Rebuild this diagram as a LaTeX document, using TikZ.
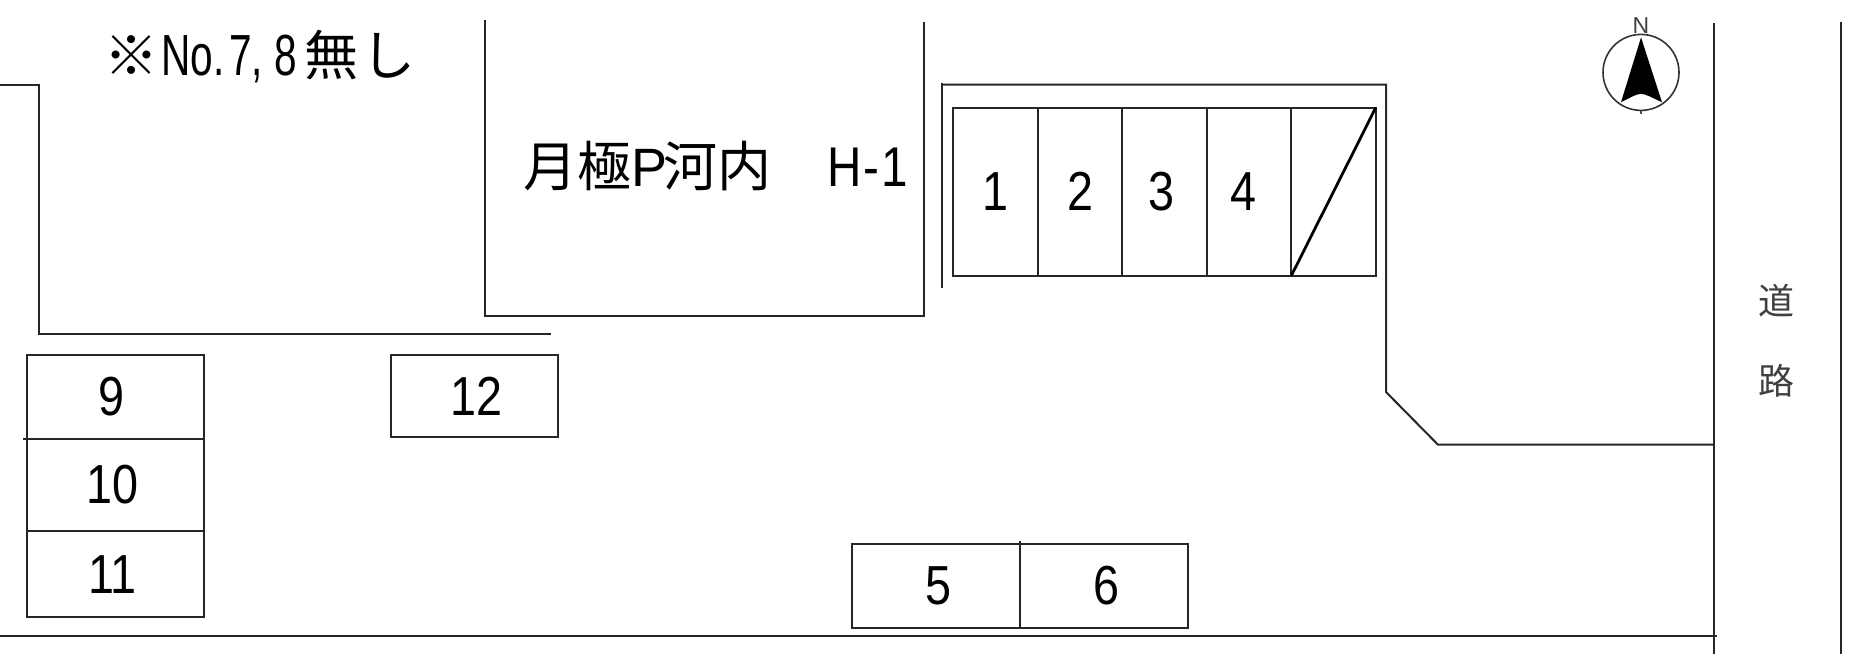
\documentclass[tikz,border=0pt]{standalone}
\usepackage{fontspec}
\setmainfont{Liberation Sans}
\newfontfamily\jpfont{Noto Sans CJK JP}
\newfontfamily\narrowfont[FakeStretch=0.85]{Liberation Sans}
\newfontfamily\slimfont[FakeStretch=0.7]{Liberation Sans}
\usetikzlibrary{positioning}
\newdimen\hdim
\newdimen\wdim
\hdim=168.2pt
\wdim=84.5pt
\tikzstyle{stall}=[
  draw=black!85,
  font={\narrowfont\fontsize{55}{60}\selectfont},
  inner sep=0pt,
  line width=2pt,
  outer sep=0pt,
  rectangle,
  text centered,
]
\tikzstyle{wall}=[
  draw=black!85,
  line width=2pt,
]
\tikzstyle{caption}=[
  anchor=base west,
  font={\fontsize{54}{60}\selectfont},
  inner sep=0pt,
]
\tikzstyle{road}=[
  font={\jpfont\fontsize{36}{40}\selectfont},
  inner sep=0pt,
  text=black!75,
]
\tikzset{
  x=1pt,
  y=-1pt,
  node distance=\wdim,
}
\begin{document}
\begin{tikzpicture}
      \useasboundingbox (0,0) rectangle (1861,654);
      \draw [wall] (0,84.5) -- (38.5,84.5) -- (38.5,333.6) -- (551,333.6);
      \draw [wall] (485,20) -- (485,315.5) -- (924,315.5) -- (924,22);
      \draw [wall] (942,288) -- (942,82.5);
      \draw [wall] (942,84.5) -- (1386,84.5) -- (1386,392) -- (1438,444.7) -- (1714,444.7);
      \draw [wall] (1714,23) -- (1714,654);
      \draw [wall] (1841,22) -- (1841,654);
      \draw [wall] (0,636.2) -- (1717,636.2);
      \node (stallone) [stall, minimum width=\wdim, minimum height=\hdim] at (995.5,191.7) {1};
      \node (stalltwo) [stall, minimum width=\wdim, minimum height=\hdim, right of=stallone] {2};
      \node (stallthree) [stall, minimum width=\wdim, minimum height=\hdim, right of=stalltwo] {\kern-6pt 3};
      \node (stallfour) [stall, minimum width=\wdim, minimum height=\hdim, right of=stallthree] {\kern-12pt 4};
      \node (stallempty) [stall, minimum width=\wdim, minimum height=\hdim, right of=stallfour] {};
      \draw [line width=2.8pt] (stallempty.south west) -- (stallempty.north east);
      \node (stallfive) [stall, minimum width=168pt, minimum height=84pt] at (936,586) {\kern4pt 5};
      \node (stallsix) [stall, minimum width=168pt, minimum height=84pt, right=0pt of stallfive] {\kern4pt 6};
      \draw [wall] ([yshift=3pt]stallfive.north east) -- (stallfive.north east);
      \node (stallnine) [stall, minimum width=176.6pt, minimum height=84.7pt] at (115.3,397) {\kern-8pt 9};
      \node (stallten) [stall, minimum width=176.6pt, minimum height=91.4pt, below=0pt of stallnine] {\kern-6pt 10};
      \node (stalleleven) [stall, minimum width=176.6pt, minimum height=86.7pt, below=0pt of stallten] {\kern-6pt 11};
      \draw [wall] ([xshift=-4pt]stallnine.south west) -- (stallnine.south west);
      \node (stalltwelve) [stall, minimum width=167.6pt, minimum height=82.6pt] at (474.5,395.9) {\kern4pt 12};
      \node (noteline) [caption] at (104,75) {{\jpfont ※}\kern3pt{\slimfont\fontsize{58}{60}\selectfont No.\kern5pt 7, 8}\kern7pt{\jpfont 無\kern3pt し}};
      \node (lotname) [caption] at (523,186.5) {{\jpfont 月極}P\kern-4pt{\jpfont 河内}\kern56pt{\narrowfont\fontsize{56}{60}\selectfont H\kern2pt-\kern2pt 1}};
      \node (roadone) [road] at (1776,301) {道};
      \node (roadtwo) [road] at (1776,381) {路};
      \node (compass) [circle, draw=black!80, line width=1.6pt, minimum size=76pt, inner sep=0pt] at (1641,72.4) {};
      \fill [shift={(compass.center)}] (0,-35) -- (-20,29.8) .. controls (-10,25) and (-5,21.5) .. (0,21.5) .. controls (5,21.5) and (10,25) .. (21,29.8) -- cycle;
      \draw [line width=1.4pt, draw=black!70] (compass.south) -- ++(0,3);
      \node (north) [above=0pt of compass, font={\fontsize{23}{24}\selectfont}, inner sep=0pt, text=black!75] {N};
    \end{tikzpicture}
\end{document}
